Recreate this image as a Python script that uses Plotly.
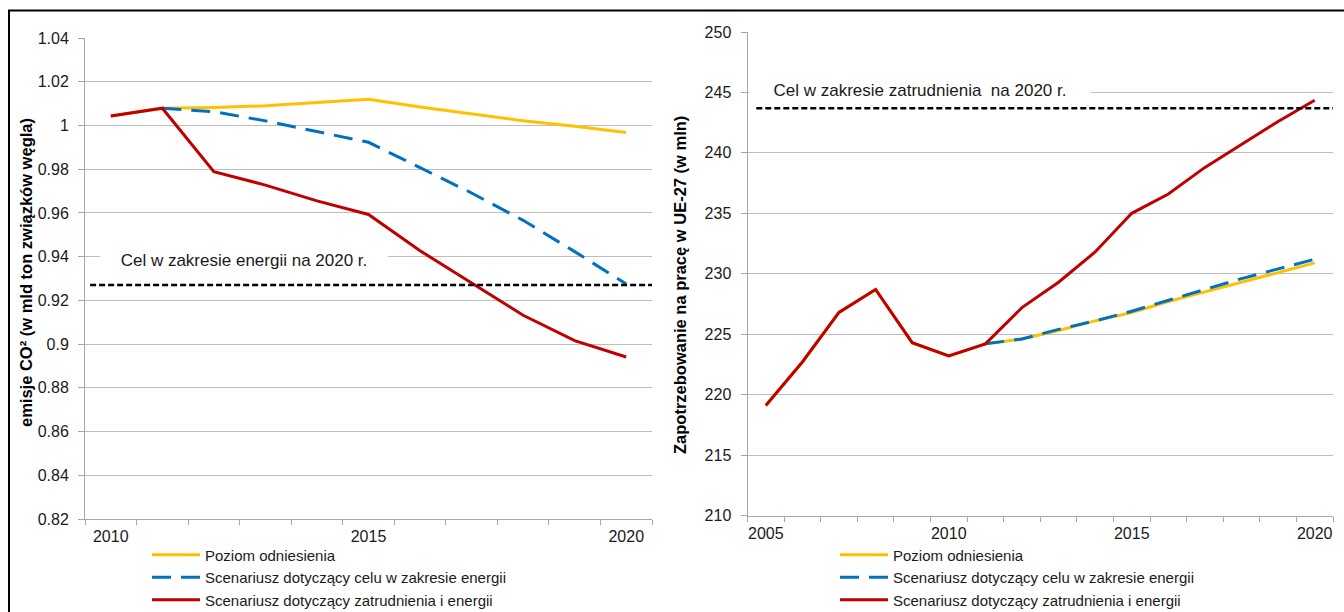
import plotly.graph_objects as go

W, H = 1344, 612

# ---------------- data ----------------
years_left = [2010, 2011, 2012, 2013, 2014, 2015, 2016, 2017, 2018, 2019, 2020]
co2_baseline = [1.0043, 1.0079, 1.0082, 1.009, 1.0105, 1.012, 1.0084, 1.0052, 1.0021, 0.9996, 0.9968]
co2_energy = [None, 1.0079, 1.0063, 1.0021, 0.9971, 0.9923, 0.9807, 0.9691, 0.9566, 0.9423, 0.9275]
co2_employment = [1.0043, 1.0079, 0.9789, 0.9727, 0.9655, 0.9593, 0.9427, 0.928, 0.9132, 0.9016, 0.8941]
co2_target = 0.927

years_right = list(range(2005, 2021))
jobs_baseline = [219.1, 222.7, 226.8, 228.7, 224.3, 223.2, 224.2, 224.6, 225.3, 226.1, 226.8,
                 227.7, 228.5, 229.3, 230.1, 230.9]
jobs_energy = [None, None, None, None, None, None, 224.2, 224.6, 225.4, 226.1, 226.9,
               227.8, 228.7, 229.6, 230.4, 231.2]
jobs_employment = [219.1, 222.7, 226.8, 228.7, 224.3, 223.2, 224.2, 227.2, 229.3, 231.8, 235.0,
                   236.6, 238.8, 240.7, 242.6, 244.35]
jobs_target = 243.7

left_yticks = [0.82, 0.84, 0.86, 0.88, 0.9, 0.92, 0.94, 0.96, 0.98, 1.0, 1.02, 1.04]
right_yticks = [210, 215, 220, 225, 230, 235, 240, 245, 250]
left_xlabels = [2010, 2015, 2020]
right_xlabels = [2005, 2010, 2015, 2020]

names = ["Poziom odniesienia",
         "Scenariusz dotyczący celu w zakresie energii",
         "Scenariusz dotyczący zatrudnienia i energii"]
left_title = "emisje CO² (w mld ton związków węgla)"
right_title = "Zapotrzebowanie na pracę w UE-27 (w mln)"
left_note = "Cel w zakresie energii na 2020 r."
right_note = "Cel w zakresie zatrudnienia  na 2020 r."

YELLOW, BLUE, RED = "#FFC000", "#0070C0", "#C00000"
FONT = "Liberation Sans, Arial, sans-serif"
GRID = "#BEBEBE"
AXIS = "#A6A6A6"
TXT = "#1a1a1a"


def px_x(p):
    return p / W


def px_y(p):
    return 1 - p / H


fig = go.Figure()


def add_series(xs, base, energy, empl, xa, ya, leg):
    fig.add_trace(go.Scatter(x=xs, y=base, mode="lines", name=names[0],
                             line=dict(color=YELLOW, width=3), xaxis=xa, yaxis=ya, legend=leg))
    fig.add_trace(go.Scatter(x=xs, y=energy, mode="lines", name=names[1],
                             line=dict(color=BLUE, width=3, dash="19px,10px"),
                             xaxis=xa, yaxis=ya, legend=leg))
    fig.add_trace(go.Scatter(x=xs, y=empl, mode="lines", name=names[2],
                             line=dict(color=RED, width=3), xaxis=xa, yaxis=ya, legend=leg))


add_series(years_left, co2_baseline, co2_energy, co2_employment, "x", "y", "legend")
add_series(years_right, jobs_baseline, jobs_energy, jobs_employment, "x2", "y2", "legend2")


def xaxis_cfg(years, labels, domain, anchor):
    return dict(
        domain=domain, anchor=anchor,
        range=[years[0] - 0.5, years[-1] + 0.5],
        tickmode="array", tickvals=labels, ticktext=[str(v) for v in labels],
        ticks="", ticklabelstandoff=3,
        showgrid=False, zeroline=False,
        showline=True, linecolor=AXIS, linewidth=1,
        tickfont=dict(family=FONT, size=16, color=TXT),
        minor=dict(tickmode="linear", tick0=years[0] - 0.5, dtick=1,
                   ticks="outside", ticklen=5, tickcolor=AXIS, tickwidth=1, showgrid=False),
        fixedrange=True,
    )


def yaxis_cfg(ticks, domain, anchor):
    return dict(
        domain=domain, anchor=anchor,
        range=[ticks[0], ticks[-1]],
        tickmode="array", tickvals=ticks, ticktext=[f"{v:g}" for v in ticks],
        ticks="outside", ticklen=6, tickcolor=AXIS, ticklabelstandoff=6,
        showgrid=True, gridcolor=GRID, gridwidth=1.3,
        zeroline=False, showline=True, linecolor=AXIS, linewidth=1,
        tickfont=dict(family=FONT, size=16, color=TXT),
        fixedrange=True,
    )


legend_font = dict(family=FONT, size=15, color=TXT)

fig.update_layout(
    width=W, height=H,
    margin=dict(l=0, r=0, t=0, b=0, pad=0, autoexpand=False),
    paper_bgcolor="white", plot_bgcolor="white",
    font=dict(family=FONT, size=16, color=TXT),
    xaxis=xaxis_cfg(years_left, left_xlabels, [px_x(85), px_x(652)], "y"),
    yaxis=yaxis_cfg(left_yticks, [px_y(519), px_y(38)], "x"),
    xaxis2=xaxis_cfg(years_right, right_xlabels, [px_x(747.5), px_x(1333)], "y2"),
    yaxis2=yaxis_cfg(right_yticks, [px_y(515.5), px_y(32)], "x2"),
    legend=dict(x=px_x(147), y=px_y(538.5), xanchor="left", yanchor="top",
                bgcolor="rgba(0,0,0,0)", font=legend_font,
                itemwidth=48, tracegroupgap=0),
    legend2=dict(x=px_x(835), y=px_y(538.5), xanchor="left", yanchor="top",
                 bgcolor="rgba(0,0,0,0)", font=legend_font,
                 itemwidth=48, tracegroupgap=0),
    showlegend=True,
)

# target lines
fig.add_shape(type="line", xref="x domain", yref="y", x0=0.009, x1=1, y0=co2_target, y1=co2_target,
              line=dict(color="black", width=2.5, dash="6px,3px"))
fig.add_shape(type="line", xref="x2 domain", yref="y2", x0=0.015, x1=1, y0=jobs_target, y1=jobs_target,
              line=dict(color="black", width=2.5, dash="6px,3px"))

# target notes
fig.add_annotation(text=left_note, xref="paper", yref="paper", x=px_x(244), y=px_y(260),
                   xanchor="center", yanchor="middle",
                   showarrow=False, bgcolor="white", width=280, borderpad=3,
                   font=dict(family=FONT, size=17, color=TXT))
fig.add_annotation(text=right_note, xref="paper", yref="paper", x=px_x(920), y=px_y(90.5),
                   xanchor="center", yanchor="middle",
                   showarrow=False, bgcolor="white", width=334, borderpad=3,
                   font=dict(family=FONT, size=17, color=TXT))

# axis titles
fig.add_annotation(text="<b>" + left_title + "</b>", xref="paper", yref="paper",
                   x=px_x(26), y=px_y(273), xanchor="center", yanchor="middle",
                   textangle=-90, showarrow=False,
                   font=dict(family=FONT, size=16.5, color="black"))
fig.add_annotation(text="<b>" + right_title + "</b>", xref="paper", yref="paper",
                   x=px_x(680), y=px_y(285), xanchor="center", yanchor="middle",
                   textangle=-90, showarrow=False,
                   font=dict(family=FONT, size=16.5, color="black"))

# outer frame
fig.add_shape(type="line", xref="paper", yref="paper", x0=px_x(8), x1=1, y0=px_y(10.5), y1=px_y(10.5),
              line=dict(color="black", width=2))
fig.add_shape(type="line", xref="paper", yref="paper", x0=px_x(9), x1=px_x(9), y0=px_y(10), y1=0,
              line=dict(color="black", width=2))

fig.write_html("out.html", config={"displayModeBar": False},
               post_script="document.body.style.margin='0px';")
